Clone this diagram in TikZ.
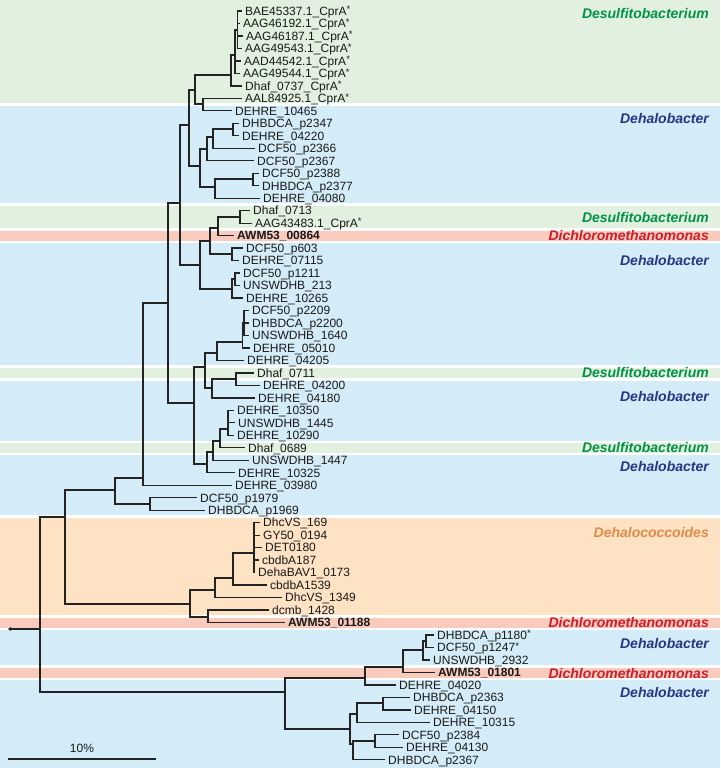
\documentclass[tikz,border=0pt]{standalone}
\usepackage{fontspec}
\setmainfont{Liberation Sans}
\usetikzlibrary{arrows.meta}
\definecolor{bggreen}{RGB}{226,240,224}
\definecolor{bgblue}{RGB}{212,236,247}
\definecolor{bgorange}{RGB}{253,226,196}
\definecolor{bgred}{RGB}{249,203,189}
\definecolor{txgreen}{RGB}{0,146,69}
\definecolor{txblue}{RGB}{38,52,132}
\definecolor{txorange}{RGB}{226,138,70}
\definecolor{txred}{RGB}{204,30,45}
\definecolor{linecol}{RGB}{35,35,35}
\newcommand\lf[5]{%
  \coordinate (#1) at (#3,#4);
  \draw[tbranch] (#2) |- (#1);
  \node[lab,anchor=west] (#1t) at ([xshift=3pt]#1) {#5};}
\newcommand\st{\raisebox{2.6pt}{\fontsize{9.5}{9.5}\selectfont *}}
\begin{document}
\begin{tikzpicture}[x=1pt,y=-1pt,
  tbranch/.style={line width=1.3pt,draw=linecol,line join=miter},
  lab/.style={font=\fontsize{12}{12}\selectfont,inner sep=0pt,text height=8.6pt,text depth=0pt,text=black!90},
  grp/.style={font=\fontsize{14}{14}\selectfont\bfseries\itshape,inner sep=0pt,anchor=east,text height=10pt,text depth=0pt}]
\useasboundingbox (0,0) rectangle (720,768);
\fill[white] (0,0) rectangle (720,768);
% background bands
\fill[bggreen]  (0,0)     rectangle (720,103.4);
\fill[bgblue]   (0,105.8) rectangle (720,203.2);
\fill[bggreen]  (0,205.6) rectangle (720,228.2);
\fill[bgred]    (0,230.6) rectangle (720,240.9);
\fill[bgblue]   (0,243.3) rectangle (720,365.4);
\fill[bggreen]  (0,367.8) rectangle (720,378.1);
\fill[bgblue]   (0,380.5) rectangle (720,440.5);
\fill[bggreen]  (0,442.9) rectangle (720,453.0);
\fill[bgblue]   (0,455.4) rectangle (720,515.4);
\fill[bgorange] (0,517.8) rectangle (720,615.2);
\fill[bgred]    (0,617.6) rectangle (720,627.7);
\fill[bgblue]   (0,630.1) rectangle (720,665.2);
\fill[bgred]    (0,667.6) rectangle (720,677.6);
\fill[bgblue]   (0,680.0) rectangle (720,768);
% group labels
\node[grp,text=txgreen]  (g1)  at (709,14)  {Desulfitobacterium};
\node[grp,text=txblue]   (g2)  at (709,118) {Dehalobacter};
\node[grp,text=txgreen]  (g3)  at (709,217) {Desulfitobacterium};
\node[grp,text=txred]    (g4)  at (709,235) {Dichloromethanomonas};
\node[grp,text=txblue]   (g5)  at (709,260) {Dehalobacter};
\node[grp,text=txgreen]  (g6)  at (709,372) {Desulfitobacterium};
\node[grp,text=txblue]   (g7)  at (709,396) {Dehalobacter};
\node[grp,text=txgreen]  (g8)  at (709,447) {Desulfitobacterium};
\node[grp,text=txblue]   (g9)  at (709,466) {Dehalobacter};
\node[grp,text=txorange] (g10) at (709,532) {Dehalococcoides};
\node[grp,text=txred]    (g11) at (709,622) {Dichloromethanomonas};
\node[grp,text=txblue]   (g12) at (709,643) {Dehalobacter};
\node[grp,text=txred]    (g13) at (709,673) {Dichloromethanomonas};
\node[grp,text=txblue]   (g14) at (709,692) {Dehalobacter};
% internal nodes
\coordinate (root) at (40,629);
\coordinate (rootend) at (8,629);
\coordinate (Nm) at (65,517);
\coordinate (Nk) at (115,490);
\coordinate (Nj) at (143,478);
\coordinate (Nl) at (150,504);
\coordinate (Nh) at (168,303);
\coordinate (Ng) at (180,203);
\coordinate (Nd) at (189,125);
\coordinate (Nb) at (195,90);
\coordinate (Na) at (231,75);
\coordinate (c2) at (235,55);
\coordinate (c1) at (237.5,30);
\coordinate (Nc) at (203,104);
\coordinate (Ne) at (200,166);
\coordinate (Ne1) at (207,149);
\coordinate (Ne3) at (213,137);
\coordinate (Ne4) at (233,129);
\coordinate (Ne2) at (215,187);
\coordinate (Ne5) at (253,179);
\coordinate (Nf) at (200,265);
\coordinate (Nf1) at (210,241);
\coordinate (Nf3) at (218,228);
\coordinate (Nf5) at (240,217);
\coordinate (Nf4) at (232,254);
\coordinate (Nf2) at (232,289);
\coordinate (Nf6) at (235,279);
\coordinate (Ni) at (194,403);
\coordinate (Ni1) at (205,367);
\coordinate (Ni5) at (217,353);
\coordinate (Ni8) at (242.5,342);
\coordinate (Ni9) at (244,323);
\coordinate (Ni6) at (212,388);
\coordinate (Ni7) at (236,379);
\coordinate (Ni2) at (207,464);
\coordinate (Ni3) at (213,452);
\coordinate (Ni4) at (220,441);
\coordinate (Ni10) at (228,429);
\coordinate (Nn) at (190,604);
\coordinate (Nn1) at (215,590);
\coordinate (Nn3) at (233,578);
\coordinate (Nn4) at (254,553);
\coordinate (Nn2) at (208,617);
\coordinate (Nz) at (285,692);
\coordinate (Ny) at (365,678);
\coordinate (Ny1) at (403,667);
\coordinate (Ny2) at (423,650);
\coordinate (Ny3) at (426,641);
\coordinate (Nx) at (350,729);
\coordinate (NxA) at (357,714);
\coordinate (NxD) at (383,703);
\coordinate (NxB) at (353,744);
\coordinate (NxC) at (375,741);
% internal connectors
\draw[tbranch,-{Stealth[length=3pt,width=4pt]}] (root) -- (rootend);
\foreach \p/\c in {root/Nm,root/Nz,Nm/Nk,Nm/Nn,Nk/Nj,Nk/Nl,Nj/Nh,Nh/Ng,Nh/Ni,
  Ng/Nd,Ng/Nf,Nd/Nb,Nd/Ne,Nb/Na,Nb/Nc,Na/c2,c2/c1,Ne/Ne1,Ne/Ne2,Ne1/Ne3,Ne3/Ne4,Ne2/Ne5,
  Nf/Nf1,Nf/Nf2,Nf1/Nf3,Nf1/Nf4,Nf3/Nf5,Nf2/Nf6,Ni/Ni1,Ni/Ni2,Ni1/Ni5,Ni1/Ni6,Ni5/Ni8,Ni8/Ni9,
  Ni6/Ni7,Ni2/Ni3,Ni3/Ni4,Ni4/Ni10,Nn/Nn1,Nn/Nn2,Nn1/Nn3,Nn3/Nn4,Nz/Ny,Nz/Nx,Ny/Ny1,Ny1/Ny2,Ny2/Ny3,
  Nx/NxA,Nx/NxB,NxA/NxD,NxB/NxC}
  {\draw[tbranch] (\p) |- (\c);}
% leaves
\lf{L1}{c1}{242}{11.00}{BAE45337.1\_CprA\st}
\lf{L2}{c1}{240}{23.48}{AAG46192.1\_CprA\st}
\lf{L3}{c1}{243}{35.96}{AAG46187.1\_CprA\st}
\lf{L4}{c1}{242}{48.44}{AAG49543.1\_CprA\st}
\lf{L5}{c2}{241}{60.92}{AAD44542.1\_CprA\st}
\lf{L6}{c2}{240}{73.40}{AAG49544.1\_CprA\st}
\lf{L7}{Na}{242}{85.88}{Dhaf\_0737\_CprA\st}
\lf{L8}{Nc}{242}{98.36}{AAL84925.1\_CprA\st}
\lf{L9}{Nc}{232}{110.84}{DEHRE\_10465}
\lf{L10}{Ne4}{239}{123.32}{DHBDCA\_p2347}
\lf{L11}{Ne4}{239}{135.80}{DEHRE\_04220}
\lf{L12}{Ne3}{255}{148.28}{DCF50\_p2366}
\lf{L13}{Ne1}{254}{160.76}{DCF50\_p2367}
\lf{L14}{Ne5}{259}{173.24}{DCF50\_p2388}
\lf{L15}{Ne5}{259}{185.72}{DHBDCA\_p2377}
\lf{L16}{Ne2}{260}{198.20}{DEHRE\_04080}
\lf{L17}{Nf5}{250}{210.68}{Dhaf\_0713}
\lf{L18}{Nf5}{252}{223.16}{AAG43483.1\_CprA\st}
\lf{L19}{Nf3}{234}{235.64}{\textbf{AWM53\_00864}}
\lf{L20}{Nf4}{243}{248.12}{DCF50\_p603}
\lf{L21}{Nf4}{239}{260.60}{DEHRE\_07115}
\lf{L22}{Nf6}{240}{273.08}{DCF50\_p1211}
\lf{L23}{Nf6}{240}{285.56}{UNSWDHB\_213}
\lf{L24}{Nf2}{243}{298.04}{DEHRE\_10265}
\lf{L25}{Ni9}{249}{310.52}{DCF50\_p2209}
\lf{L26}{Ni9}{249}{323.00}{DHBDCA\_p2200}
\lf{L27}{Ni9}{249}{335.48}{UNSWDHB\_1640}
\lf{L28}{Ni8}{250}{347.96}{DEHRE\_05010}
\lf{L29}{Ni5}{244}{360.44}{DEHRE\_04205}
\lf{L30}{Ni7}{254}{372.92}{Dhaf\_0711}
\lf{L31}{Ni7}{260}{385.40}{DEHRE\_04200}
\lf{L32}{Ni6}{255}{397.88}{DEHRE\_04180}
\lf{L33}{Ni10}{234}{410.36}{DEHRE\_10350}
\lf{L34}{Ni10}{235}{422.84}{UNSWDHB\_1445}
\lf{L35}{Ni10}{234}{435.32}{DEHRE\_10290}
\lf{L36}{Ni4}{245}{447.80}{Dhaf\_0689}
\lf{L37}{Ni3}{249}{460.28}{UNSWDHB\_1447}
\lf{L38}{Ni2}{235}{472.76}{DEHRE\_10325}
\lf{L39}{Nj}{232}{485.24}{DEHRE\_03980}
\lf{L40}{Nl}{197}{497.72}{DCF50\_p1979}
\lf{L41}{Nl}{205}{510.20}{DHBDCA\_p1969}
\lf{L42}{Nn4}{260}{522.68}{DhcVS\_169}
\lf{L43}{Nn4}{260}{535.16}{GY50\_0194}
\lf{L44}{Nn4}{262}{547.64}{DET0180}
\lf{L45}{Nn4}{259}{560.12}{cbdbA187}
\lf{L46}{Nn4}{255}{572.60}{DehaBAV1\_0173}
\lf{L47}{Nn3}{267}{585.08}{cbdbA1539}
\lf{L48}{Nn1}{282}{597.56}{DhcVS\_1349}
\lf{L49}{Nn2}{269}{610.04}{dcmb\_1428}
\lf{L50}{Nn2}{285}{622.52}{\textbf{AWM53\_01188}}
\lf{L51}{Ny3}{434}{635.00}{DHBDCA\_p1180\st}
\lf{L52}{Ny3}{434}{647.48}{DCF50\_p1247\st}
\lf{L53}{Ny2}{430}{659.96}{UNSWDHB\_2932}
\lf{L54}{Ny1}{435}{672.44}{\textbf{AWM53\_01801}}
\lf{L55}{Ny}{396}{684.92}{DEHRE\_04020}
\lf{L56}{NxD}{410}{697.40}{DHBDCA\_p2363}
\lf{L57}{NxD}{411}{709.88}{DEHRE\_04150}
\lf{L58}{NxA}{430}{722.36}{DEHRE\_10315}
\lf{L59}{NxC}{399}{734.84}{DCF50\_p2384}
\lf{L60}{NxC}{403}{747.32}{DEHRE\_04130}
\lf{L61}{NxB}{385}{759.80}{DHBDCA\_p2367}
% scale bar
\coordinate (sb1) at (8,759);
\coordinate (sb2) at (156,759);
\draw[tbranch] (sb1) -- (sb2);
\node[lab,anchor=south] (sbl) at (82,753) {10\%};
\end{tikzpicture}
\end{document}
